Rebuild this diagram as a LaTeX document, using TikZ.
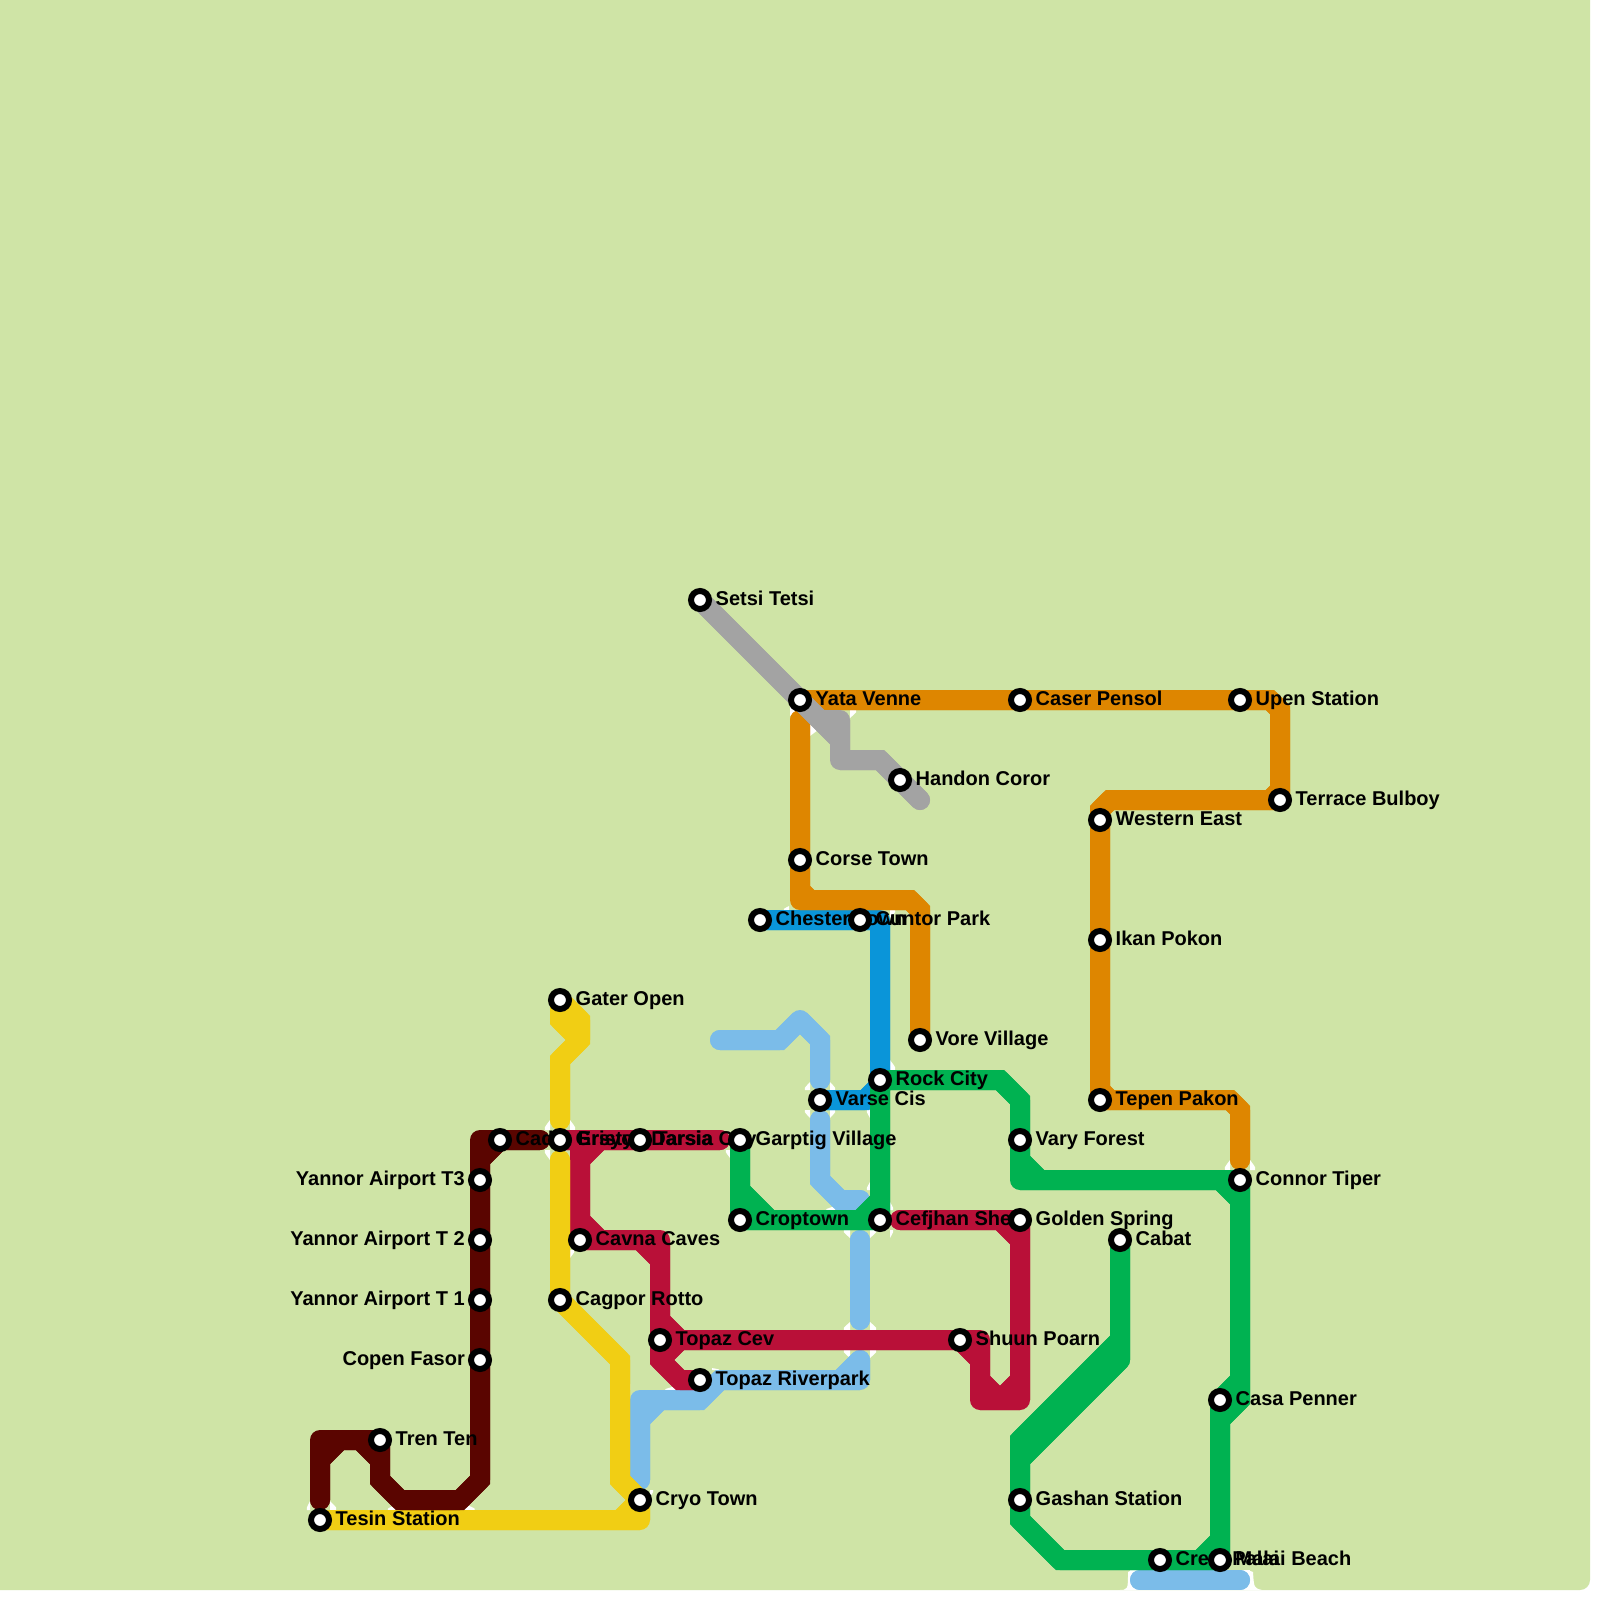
\documentclass[tikz,border=0pt]{standalone}
\usepackage{fontspec}
\setmainfont{Liberation Sans}[BoldFont={Liberation Sans Bold}]
\pgfdeclarelayer{under}
\pgfdeclarelayer{texts}
\pgfsetlayers{under,texts,main}
\definecolor{bgc}{RGB}{207,228,166}
\definecolor{cdark}{RGB}{90,5,0}
\definecolor{cred}{RGB}{185,16,56}
\definecolor{cyel}{RGB}{241,206,20}
\definecolor{cgreen}{RGB}{0,178,81}
\definecolor{corange}{RGB}{222,134,0}
\definecolor{cgray}{RGB}{163,163,163}
\definecolor{cblue}{RGB}{10,149,217}
\definecolor{clight}{RGB}{123,188,233}
\tikzset{
  stn/.style={circle,draw=black,fill=white,line width=6pt,minimum size=18pt,inner sep=0pt},
  lab/.style={font=\fontsize{20}{20}\selectfont\bfseries,inner sep=0pt,text=black},
}
% station with label on the right / on the left
\newcommand\stR[4]{\node[stn] (#1) at (#2,#3) {};
  \begin{pgfonlayer}{texts}\node[lab,anchor=base west,xshift=15.5pt,yshift=-5pt] (#1-l) at (#2,#3) {#4};\end{pgfonlayer}}
\newcommand\stL[4]{\node[stn] (#1) at (#2,#3) {};
  \begin{pgfonlayer}{texts}\node[lab,anchor=base east,xshift=-15pt,yshift=-5pt] (#1-l) at (#2,#3) {#4};\end{pgfonlayer}}
% a metro line: round corners at right angles, sharp ones at 45 degrees
\newcommand\metro[2]{\draw[line width=20pt,line cap=round,line join=round,#1]#2;
  \draw[line width=20pt,line cap=round,line join=miter,miter limit=1.2,#1]#2;}
% small white fillet in the corner between two lines
\newcommand\filt[4]{\fill[white] (#1,#2) -- +(#3,0) .. controls +(0.2*#3,0.2*#4) .. +(0,#4) -- cycle;}
\begin{document}
\begin{tikzpicture}[x=1pt,y=-1pt]
\useasboundingbox (0,0) rectangle (1600,1600);
% stations
\stR{setsi}{700}{600}{Setsi Tetsi}
\stR{yata}{800}{700}{Yata Venne}
\stR{caser}{1020}{700}{Caser Pensol}
\stR{upen}{1240}{700}{Upen Station}
\stR{handon}{900}{780}{Handon Coror}
\stR{terrace}{1280}{800}{Terrace Bulboy}
\stR{western}{1100}{820}{Western East}
\stR{corse}{800}{860}{Corse Town}
\stR{chester}{760}{920}{Chester Town}
\stR{cuntor}{860}{920}{Cuntor Park}
\stR{ikan}{1100}{940}{Ikan Pokon}
\stR{gater}{560}{1000}{Gater Open}
\stR{vore}{920}{1040}{Vore Village}
\stR{rock}{880}{1080}{Rock City}
\stR{varse}{820}{1100}{Varse Cis}
\stR{tepen}{1100}{1100}{Tepen Pakon}
\stR{cadre}{500}{1140}{Cadre Ersyo}
\stR{ersyo}{560}{1140}{Gristyo Darsia}
\stR{tarsia}{640}{1140}{Tarsia City}
\stR{garptig}{740}{1140}{Garptig Village}
\stR{vary}{1020}{1140}{Vary Forest}
\stL{tthree}{480}{1180}{Yannor Airport T3}
\stR{connor}{1240}{1180}{Connor Tiper}
\stR{croptown}{740}{1220}{Croptown}
\stR{cefjhan}{880}{1220}{Cefjhan Shen}
\stR{golden}{1020}{1220}{Golden Spring}
\stL{ttwo}{480}{1240}{Yannor Airport T 2}
\stR{cavna}{580}{1240}{Cavna Caves}
\stR{cabat}{1120}{1240}{Cabat}
\stL{tone}{480}{1300}{Yannor Airport T 1}
\stR{cagpor}{560}{1300}{Cagpor Rotto}
\stR{topazcev}{660}{1340}{Topaz Cev}
\stR{shuun}{960}{1340}{Shuun Poarn}
\stL{copen}{480}{1360}{Copen Fasor}
\stR{riverpark}{700}{1380}{Topaz Riverpark}
\stR{casa}{1220}{1400}{Casa Penner}
\stR{tren}{380}{1440}{Tren Ten}
\stR{cryo}{640}{1500}{Cryo Town}
\stR{gashan}{1020}{1500}{Gashan Station}
\stR{tesin}{320}{1520}{Tesin Station}
\stR{crest}{1160}{1560}{Crest Palai}
\stR{malai}{1220}{1560}{Malai Beach}
\begin{pgfonlayer}{under}
\fill[white] (0,0) rectangle (1600,1600);
\fill[bgc,rounded corners=10pt] (-20,-20) rectangle (1590,1590);
% white patch behind the bottom bar
\fill[white] (1130,1570) rectangle (1250,1590);
\fill[white] (1132,1570) -- (1132,1590) -- (1118,1590) .. controls (1128,1590) .. (1128,1572) -- cycle;
\fill[white] (1248,1570) -- (1248,1590) -- (1262,1590) .. controls (1254,1588) .. (1253,1572) -- cycle;
% fillets
\filt{550}{1130}{-5}{-10}\filt{570}{1130}{5}{-10}\filt{550}{1150}{-5}{10}\filt{570}{1150}{5}{10}
\filt{310}{1510}{-3}{-9}\filt{330}{1510}{6}{-9}\filt{395}{1510}{-7}{-5}\filt{465}{1510}{9}{-6}
\filt{570}{1250}{4}{8}
\filt{630}{1390}{-3}{-6}\filt{676}{1390}{-10}{-4}\filt{712}{1370}{7}{-2}
\filt{650}{1490}{3}{7}
\filt{810}{1090}{-5}{-8}\filt{830}{1090}{5}{-8}\filt{810}{1110}{-5}{8}\filt{830}{1110}{5}{8}
\filt{870}{1110}{-3}{8}\filt{870}{1190}{-3}{-8}\filt{835}{1210}{-8}{-4}
\filt{890}{1070}{5}{-10}\filt{890}{1210}{3}{-8}\filt{890}{1230}{3}{8}
\filt{850}{1230}{-6}{8}\filt{870}{1230}{6}{8}\filt{850}{1330}{-6}{-8}\filt{870}{1330}{6}{-8}
\filt{850}{1350}{-6}{8}\filt{870}{1350}{6}{8}
\filt{730}{1150}{-4}{8}
\filt{1230}{1170}{-5}{-10}\filt{1250}{1170}{5}{-10}
\filt{850}{710}{6}{8}\filt{890}{910}{5}{8}\filt{789}{910}{-5}{-4}
\fill[white] (790,704) -- (797,710) -- (790,716) -- cycle;
\fill[white] (810,722) -- (818,730) -- (810,736) -- cycle;
% lines
\metro{clight}{(720,1040)--(780,1040)--(800,1020)--(820,1040)--(820,1080)}
\metro{clight}{(820,1120)--(820,1180)--(840,1200)--(860,1200)}
\metro{clight}{(860,1240)--(860,1320)}
\metro{clight}{(860,1360)--(860,1380)--(720,1380)--(700,1400)--(640,1400)--(640,1480) (860,1360)--(840,1380) (640,1420)--(660,1400)}
\metro{clight}{(1140,1580)--(1240,1580)}
\metro{cblue}{(chester.center)--(cuntor.center)--(880,920)--(rock.center) (varse.center)--(865,1100)--(880,1085)}
\metro{corange}{(yata.center)--(caser.center)--(upen.center)--(1270,700)--(1280,710)--(terrace.center)--(1110,800)--(western.center |- 0,810)--(western.center)--(ikan.center)--(tepen.center)--(1230,1100)--(1240,1110)--(1240,1160)}
\metro{corange}{(800,720)--(corse.center)--(800,900)--(910,900)--(920,910)--(vore.center) (800,890)--(810,900) (1270,800)--(1280,790) (1100,1090)--(1110,1100)}
\metro{cgray}{(setsi.center)--(yata.center)--(840,740) (820,720)--(840,720)--(840,760)--(880,760)--(handon.center)--(920,800)}
\metro{cred}{(ersyo.center)--(tarsia.center)--(720,1140) (580,1140)--(580,1220)--(cavna.center)--(660,1240)--(topazcev.center)--(660,1360)--(680,1380)--(riverpark.center) (580,1160)--(600,1140) (580,1220)--(600,1240) (640,1240)--(660,1260) (660,1320)--(680,1340) (660,1360)--(680,1340)}
\metro{cred}{(topazcev.center)--(shuun.center)--(980,1340)--(980,1400)--(1020,1400)--(golden.center)--(900,1220) (shuun.center)--(980,1360) (980,1380)--(1000,1400) (1020,1380)--(1000,1400) (1000,1220)--(1020,1240)}
\metro{cgreen}{(garptig.center)--(croptown.center)--(cefjhan.center)--(rock.center)--(1000,1080)--(1020,1100)--(vary.center)--(1020,1180)--(connor.center)--(1240,1380)--(casa.center)--(malai.center)--(crest.center)--(1060,1560)--(1020,1520)--(gashan.center)--(1020,1440)--(1120,1340)--(cabat.center) (740,1190)--(770,1220) (880,1200)--(860,1220) (1020,1160)--(1040,1180) (1220,1180)--(1240,1200) (1240,1380)--(1240,1400)--(1220,1420) (1220,1540)--(1200,1560) (1120,1360)--(1020,1460) (1120,1340)--(1120,1360) (1020,1440)--(1020,1460)}
\metro{cyel}{(gater.center)--(580,1020)--(580,1040)--(560,1060)--(560,1120) (gater.center)--(560,1020)--(580,1040)}
\metro{cyel}{(560,1160)--(cagpor.center)--(620,1360)--(620,1480)--(cryo.center)--(640,1520)--(tesin.center) (620,1520)--(640,1500)}
\metro{cdark}{(tesin.center |- 0,1500)--(320,1440)--(tren.center)--(380,1480)--(400,1500)--(460,1500)--(480,1480)--(copen.center)--(tone.center)--(ttwo.center)--(tthree.center)--(480,1140)--(cadre.center)--(540,1140) (320,1460)--(340,1440) (360,1440)--(380,1460) (480,1160)--(500,1140)}
\end{pgfonlayer}
\end{tikzpicture}
\end{document}
